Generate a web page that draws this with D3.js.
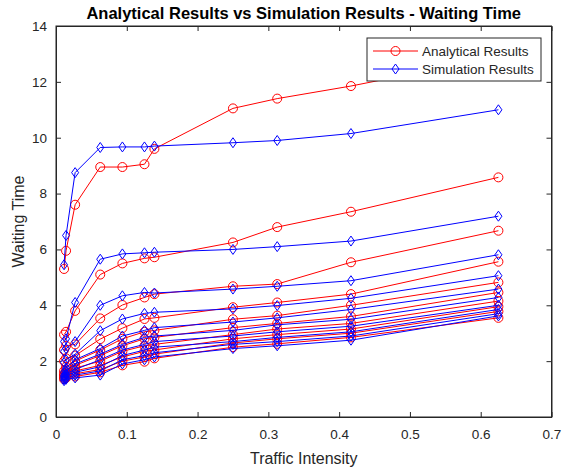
<!DOCTYPE html>
<html>
<head>
<meta charset="utf-8">
<script src="https://cdn.jsdelivr.net/npm/d3@7"></script>
<style>
  body { margin: 0; background: #fff; }
  svg { font-family: "Liberation Sans", Arial, Helvetica, sans-serif; }
  .axis path, .axis line { stroke: #262626; }
  .axis text { fill: #262626; font-size: 13.5px; }
</style>
</head>
<body>
<div id="chart"></div>
<script>
// traffic intensity values (x)
var trafficIntensity = [0.0114, 0.0142, 0.027, 0.0625, 0.0938, 0.125, 0.139, 0.25, 0.3125, 0.4167, 0.625];

// analytical waiting times, one array per curve
var analytical1 = [5.3, 5.95, 7.6, 8.95, 8.95, 9.05, 9.6, 11.05, 11.4, 11.85, 12.9];
var analytical2 = [2.95, 3.05, 3.8, 5.1, 5.5, 5.68, 5.72, 6.25, 6.8, 7.35, 8.58];
var analytical3 = [2.4, 2.55, 2.6, 3.53, 4.01, 4.28, 4.4, 4.68, 4.76, 5.54, 6.67];
var analytical4 = [2.0, 2.1, 2.2, 2.79, 3.18, 3.51, 3.55, 3.93, 4.1, 4.4, 5.56];
var analytical5 = [1.65, 1.8, 2.0, 2.4, 2.8, 3.05, 3.1, 3.5, 3.63, 4.0, 4.82];
var analytical6 = [1.55, 1.7, 1.85, 2.2, 2.55, 2.8, 2.85, 3.2, 3.35, 3.6, 4.46];
var analytical7 = [1.5, 1.6, 1.75, 2.0, 2.35, 2.55, 2.6, 2.95, 3.15, 3.35, 4.15];
var analytical8 = [1.45, 1.55, 1.65, 1.85, 2.15, 2.35, 2.4, 2.8, 2.95, 3.15, 3.95];
var analytical9 = [1.4, 1.45, 1.55, 1.7, 2.0, 2.15, 2.25, 2.65, 2.8, 3.0, 3.78];
var analytical10 = [1.35, 1.4, 1.45, 1.6, 1.85, 1.98, 2.1, 2.5, 2.62, 2.85, 3.55];

// simulation waiting times
var simulation1 = [5.45, 6.5, 8.75, 9.65, 9.67, 9.67, 9.7, 9.82, 9.9, 10.15, 11.0];
var simulation2 = [2.7, 2.8, 4.1, 5.65, 5.84, 5.88, 5.9, 6.0, 6.1, 6.3, 7.19];
var simulation3 = [2.35, 2.45, 2.7, 4.0, 4.34, 4.46, 4.44, 4.58, 4.68, 4.88, 5.81];
var simulation4 = [1.95, 2.05, 2.25, 3.09, 3.51, 3.71, 3.75, 3.87, 3.99, 4.25, 5.06];
var simulation5 = [1.6, 1.75, 2.05, 2.45, 2.9, 3.1, 3.2, 3.4, 3.55, 3.85, 4.58];
var simulation6 = [1.5, 1.65, 1.9, 2.25, 2.6, 2.85, 2.9, 3.1, 3.3, 3.5, 4.28];
var simulation7 = [1.45, 1.55, 1.7, 2.05, 2.4, 2.6, 2.7, 2.9, 3.05, 3.25, 4.0];
var simulation8 = [1.4, 1.5, 1.6, 1.8, 2.2, 2.4, 2.5, 2.7, 2.85, 3.05, 3.85];
var simulation9 = [1.35, 1.4, 1.5, 1.65, 2.05, 2.2, 2.3, 2.6, 2.7, 2.9, 3.7];
var simulation10 = [1.3, 1.35, 1.4, 1.5, 1.9, 2.05, 2.15, 2.45, 2.55, 2.75, 3.62];

var analyticalSeries = [analytical1, analytical2, analytical3, analytical4, analytical5,
                        analytical6, analytical7, analytical8, analytical9, analytical10];
var simulationSeries = [simulation1, simulation2, simulation3, simulation4, simulation5,
                        simulation6, simulation7, simulation8, simulation9, simulation10];

var xTicks = [0, 0.1, 0.2, 0.3, 0.4, 0.5, 0.6, 0.7];
var yTicks = [0, 2, 4, 6, 8, 10, 12, 14];
var legendLabels = ["Analytical Results", "Simulation Results"];

var svgWidth = 563, svgHeight = 472;
var margin = { top: 26, right: 11.5, bottom: 55, left: 56 };
var width = svgWidth - margin.left - margin.right;
var height = svgHeight - margin.top - margin.bottom;

var svg = d3.select("#chart").append("svg")
    .attr("width", svgWidth)
    .attr("height", svgHeight);

var chartGroup = svg.append("g")
    .attr("transform", `translate(${margin.left}, ${margin.top})`);

// scales
var xScale = d3.scaleLinear().domain([0, 0.7]).range([0, width]);
var yScale = d3.scaleLinear().domain([0, 14]).range([height, 0]);

// axes, ticks pointing inward like matlab
chartGroup.append("g")
    .attr("class", "axis")
    .attr("transform", `translate(0, ${height})`)
    .call(d3.axisBottom(xScale).tickValues(xTicks).tickFormat(d3.format("")).tickSizeInner(-5).tickSizeOuter(0).tickPadding(12));

chartGroup.append("g")
    .attr("class", "axis")
    .call(d3.axisTop(xScale).tickValues(xTicks).tickFormat("").tickSizeInner(-5).tickSizeOuter(0));

chartGroup.append("g")
    .attr("class", "axis")
    .call(d3.axisLeft(yScale).tickValues(yTicks).tickSizeInner(-5).tickSizeOuter(0).tickPadding(9));

chartGroup.append("g")
    .attr("class", "axis")
    .attr("transform", `translate(${width}, 0)`)
    .call(d3.axisRight(yScale).tickValues(yTicks).tickFormat("").tickSizeInner(-5).tickSizeOuter(0));

// box
chartGroup.append("rect")
    .attr("width", width)
    .attr("height", height)
    .attr("fill", "none")
    .attr("stroke", "#262626")
    .attr("stroke-width", 1);

var line = d3.line()
    .x((d, i) => xScale(trafficIntensity[i]))
    .y(d => yScale(d));

function diamondPath(cx, cy) {
    return `M${cx},${cy - 5}L${cx + 3.5},${cy}L${cx},${cy + 5}L${cx - 3.5},${cy}Z`;
}

// analytical curves (red circles)
analyticalSeries.forEach(series => {
    chartGroup.append("path")
        .datum(series)
        .attr("d", line)
        .attr("fill", "none")
        .attr("stroke", "#ff0000")
        .attr("stroke-width", 1);
    chartGroup.selectAll(null)
        .data(series)
        .enter()
        .append("circle")
        .attr("cx", (d, i) => xScale(trafficIntensity[i]))
        .attr("cy", d => yScale(d))
        .attr("r", 4.5)
        .attr("fill", "none")
        .attr("stroke", "#ff0000")
        .attr("stroke-width", 1);
});

// simulation curves (blue diamonds)
simulationSeries.forEach(series => {
    chartGroup.append("path")
        .datum(series)
        .attr("d", line)
        .attr("fill", "none")
        .attr("stroke", "#0000ff")
        .attr("stroke-width", 1);
    chartGroup.selectAll(null)
        .data(series)
        .enter()
        .append("path")
        .attr("d", (d, i) => diamondPath(xScale(trafficIntensity[i]), yScale(d)))
        .attr("fill", "none")
        .attr("stroke", "#0000ff")
        .attr("stroke-width", 1);
});

// legend
var legend = svg.append("g").attr("transform", "translate(367, 38)");
legend.append("rect")
    .attr("width", 174)
    .attr("height", 43)
    .attr("fill", "#fff")
    .attr("stroke", "#262626")
    .attr("stroke-width", 1);

legendLabels.forEach((label, i) => {
    var ly = 13 + i * 18;
    var color = i === 0 ? "#ff0000" : "#0000ff";
    legend.append("line")
        .attr("x1", 6).attr("x2", 51)
        .attr("y1", ly).attr("y2", ly)
        .attr("stroke", color);
    if (i === 0) {
        legend.append("circle")
            .attr("cx", 28.5).attr("cy", ly).attr("r", 4.5)
            .attr("fill", "none").attr("stroke", color);
    } else {
        legend.append("path")
            .attr("d", diamondPath(28.5, ly))
            .attr("fill", "none").attr("stroke", color);
    }
    legend.append("text")
        .attr("x", 55)
        .attr("y", ly + 5)
        .attr("font-size", "13.5px")
        .attr("fill", "#262626")
        .text(label);
});

// title and axis labels
svg.append("text")
    .attr("x", margin.left + width / 2)
    .attr("y", 19)
    .attr("text-anchor", "middle")
    .attr("font-size", "16.5px")
    .attr("font-weight", "bold")
    .attr("fill", "#000")
    .text("Analytical Results vs Simulation Results - Waiting Time");

svg.append("text")
    .attr("x", margin.left + width / 2)
    .attr("y", 464)
    .attr("text-anchor", "middle")
    .attr("font-size", "16px")
    .attr("fill", "#262626")
    .text("Traffic Intensity");

svg.append("text")
    .attr("transform", `translate(24, ${margin.top + height / 2}) rotate(-90)`)
    .attr("text-anchor", "middle")
    .attr("font-size", "16px")
    .attr("fill", "#262626")
    .text("Waiting Time");
</script>
</body>
</html>
